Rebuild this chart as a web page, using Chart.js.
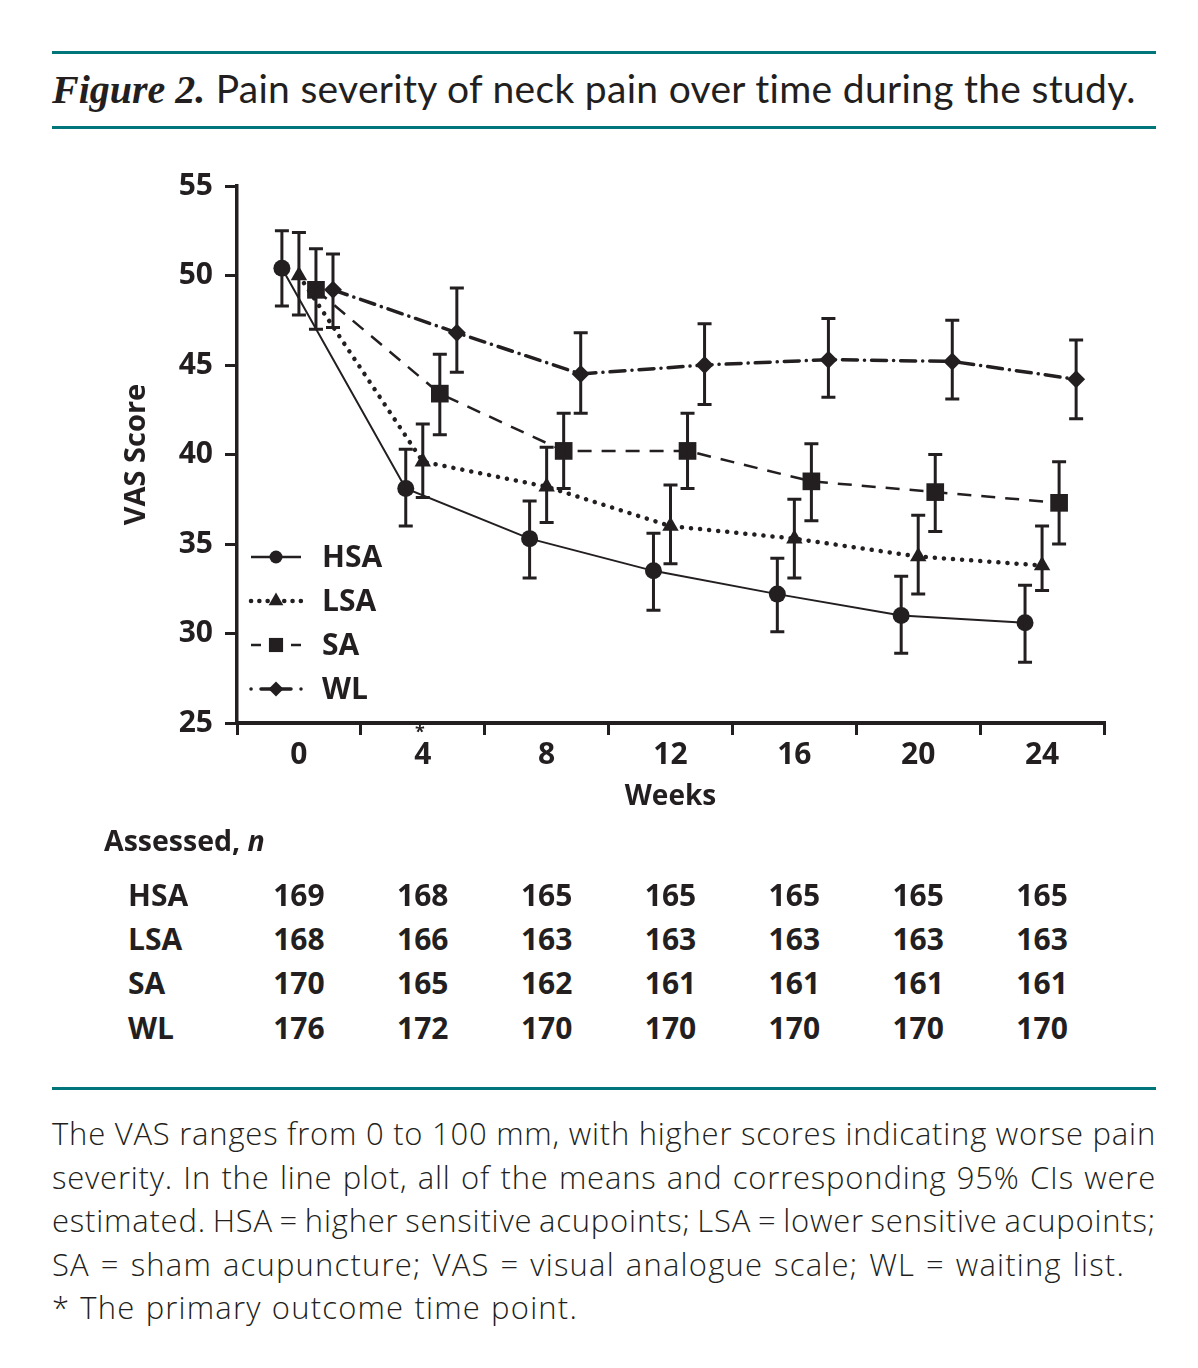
<!DOCTYPE html>
<html>
<head>
<meta charset="utf-8">
<script src="https://cdn.jsdelivr.net/npm/chart.js@4.4.1/dist/chart.umd.min.js"></script>
<style>
  html, body { margin: 0; padding: 0; background: #fff; }
  body { width: 1198px; height: 1368px; position: relative; overflow: hidden; color: #231f20; }
  .rule { position: absolute; left: 52px; width: 1104px; height: 3px; background: #00767a; }
  #title { position: absolute; left: 52px; top: 65px; font-family: "Lato", sans-serif; font-size: 39px; letter-spacing: 0.3px; white-space: nowrap; }
  #title b { font-family: "Liberation Serif", serif; font-style: italic; font-weight: bold; font-size: 40px; letter-spacing: 0; }
  #chartBox { position: absolute; left: 0; top: 150px; width: 1198px; height: 680px; }
  #assessed { position: absolute; left: 104px; top: 821px; font-family: "Open Sans", sans-serif; font-weight: 700; font-size: 28.5px; }
  .cell { position: absolute; font-family: "Open Sans", sans-serif; font-weight: 700; font-size: 30px; line-height: 40px; transform: translateX(-50%); }
  .rowlabel { position: absolute; left: 128px; font-family: "Open Sans", sans-serif; font-weight: 700; font-size: 30px; line-height: 40px; }
  #note { position: absolute; left: 52px; top: 1112px; width: 1104px; font-family: "Open Sans", sans-serif; font-weight: 300; font-size: 31px; letter-spacing: 0.8px; word-spacing: -3px; line-height: 43.5px; }
  #note div { text-align: justify; text-align-last: justify; white-space: nowrap; }
  #note div.loose { letter-spacing: 1.2px; word-spacing: 0; }
</style>
</head>
<body>
<div class="rule" style="top:51px"></div>
<div id="title"><b>Figure 2.</b> Pain severity of neck pain over time during the study.</div>
<div class="rule" style="top:126px"></div>
<div id="chartBox"><canvas id="chart"></canvas></div>
<div id="assessed">Assessed, <i>n</i></div>
<div id="table"></div>
<div class="rule" style="top:1087px"></div>
<div id="note">
  <div>The VAS ranges from 0 to 100 mm, with higher scores indicating worse pain</div>
  <div>severity. In the line plot, all of the means and corresponding 95% CIs were</div>
  <div>estimated. HSA = higher sensitive acupoints; LSA = lower sensitive acupoints;</div>
  <div class="loose" style="width:1073px">SA = sham acupuncture; VAS = visual analogue scale; WL = waiting list.</div>
  <div class="loose" style="width:526px">* The primary outcome time point.</div>
</div>
<script>
// weeks of assessment
const weeks = [0, 4, 8, 12, 16, 20, 24]

// VAS means and 95% CI bounds
const hsaMean = [50.4, 38.1, 35.3, 33.5, 32.2, 31.0, 30.6]
const hsaLower = [48.3, 36.0, 33.1, 31.3, 30.1, 28.9, 28.4]
const hsaUpper = [52.5, 40.3, 37.4, 35.6, 34.2, 33.2, 32.7]

const lsaMean = [50.0, 39.6, 38.2, 36.0, 35.3, 34.3, 33.8]
const lsaLower = [47.8, 37.6, 36.2, 33.9, 33.1, 32.2, 32.4]
const lsaUpper = [52.4, 41.7, 40.4, 38.3, 37.5, 36.6, 36.0]

const saMean = [49.2, 43.4, 40.2, 40.2, 38.5, 37.9, 37.3]
const saLower = [47.0, 41.1, 38.1, 38.1, 36.3, 35.7, 35.0]
const saUpper = [51.5, 45.6, 42.3, 42.3, 40.6, 40.0, 39.6]

const wlMean = [49.2, 46.8, 44.5, 45.0, 45.3, 45.2, 44.2]
const wlLower = [47.1, 44.6, 42.3, 42.8, 43.2, 43.1, 42.0]
const wlUpper = [51.2, 49.3, 46.8, 47.3, 47.6, 47.5, 46.4]

// number assessed at each visit
const groupNames = ["HSA", "LSA", "SA", "WL"]
const hsaN = [169, 168, 165, 165, 165, 165, 165]
const lsaN = [168, 166, 163, 163, 163, 163, 163]
const saN = [170, 165, 162, 161, 161, 161, 161]
const wlN = [176, 172, 170, 170, 170, 170, 170]

const yTicks = [25, 30, 35, 40, 45, 50, 55]
const ink = "#231f20"
const tickFont = { family: "'Open Sans'", size: 30, weight: "bold" }
const titleFont = { family: "'Open Sans'", size: 28, weight: "bold" }

// series styling (x offset keeps the four groups from overlapping)
const styles = {
  HSA: { shift: -0.55, dash: [], legendDash: [], width: 2, cap: "butt", point: "circle", radius: 8.5, legendRadius: 6.5 },
  LSA: { shift: 0, dash: [0.1, 9], legendDash: [0.1, 8.2], width: 4.5, cap: "round", point: "triangle", radius: 9.5, legendRadius: 8.5 },
  SA: { shift: 0.55, dash: [14, 10], legendDash: [10, 30], width: 2.5, cap: "butt", point: "rect", radius: 12.5, legendRadius: 10 },
  WL: { shift: 1.1, dash: [15, 7, 0.1, 7], legendDash: [0.1, 9.9, 30, 10], width: 3.5, cap: "round", point: "rectRot", radius: 9, legendRadius: 7.5 },
}

function makeSeries(name, mean, lower, upper) {
  const s = styles[name]
  return {
    label: name,
    data: weeks.map((w, i) => ({ x: w + s.shift, y: mean[i] })),
    lower: lower,
    upper: upper,
    borderColor: ink,
    backgroundColor: ink,
    borderWidth: s.width,
    borderDash: s.dash,
    borderCapStyle: s.cap,
    pointStyle: s.point,
    pointRadius: s.radius,
    pointBorderWidth: 0,
    pointBackgroundColor: ink,
    showLine: true,
    tension: 0,
  }
}

// error bars from each dataset's lower/upper arrays
const errorBars = {
  id: "errorBars",
  afterDatasetsDraw(chart) {
    const ctx = chart.ctx
    const y = chart.scales.y
    ctx.save()
    ctx.strokeStyle = ink
    ctx.lineWidth = 3
    ctx.setLineDash([])
    chart.data.datasets.forEach((ds, di) => {
      const meta = chart.getDatasetMeta(di)
      meta.data.forEach((pt, i) => {
        const top = y.getPixelForValue(ds.upper[i])
        const bot = y.getPixelForValue(ds.lower[i])
        ctx.beginPath()
        ctx.moveTo(pt.x, top); ctx.lineTo(pt.x, bot)
        ctx.moveTo(pt.x - 7, top); ctx.lineTo(pt.x + 7, top)
        ctx.moveTo(pt.x - 7, bot); ctx.lineTo(pt.x + 7, bot)
        ctx.stroke()
      })
    })
    ctx.restore()
  },
}

// legend with line sample + marker, and the asterisk under week 4
const sampleLegend = {
  id: "sampleLegend",
  afterDraw(chart) {
    const ctx = chart.ctx
    const area = chart.chartArea
    ctx.save()
    chart.data.datasets.forEach((ds, i) => {
      const s = styles[ds.label]
      const yy = area.top + 371 + i * 44
      const x0 = area.left + 14, x1 = area.left + 64
      ctx.strokeStyle = ink
      ctx.lineWidth = ds.label === "HSA" ? 2.5 : s.width
      ctx.lineCap = s.cap
      ctx.setLineDash(s.legendDash)
      ctx.beginPath()
      ctx.moveTo(x0, yy); ctx.lineTo(x1, yy)
      ctx.stroke()
      ctx.setLineDash([])
      ctx.fillStyle = ink
      Chart.helpers.drawPoint(ctx, { pointStyle: s.point, radius: s.legendRadius, borderWidth: 0 }, (x0 + x1) / 2, yy)
      ctx.font = "bold 30px 'Open Sans'"
      ctx.textBaseline = "middle"
      ctx.textAlign = "left"
      ctx.fillText(ds.label, area.left + 85, yy + 1)
    })
    const xs = chart.scales.x
    ctx.font = "bold 18px 'Open Sans'"
    ctx.textAlign = "center"
    ctx.textBaseline = "middle"
    ctx.fillText("*", xs.getPixelForValue(4) - 3, area.bottom + 10)
    ctx.restore()
  },
}

const chart = new Chart(document.getElementById("chart"), {
  type: "scatter",
  data: {
    datasets: [
      makeSeries("HSA", hsaMean, hsaLower, hsaUpper),
      makeSeries("LSA", lsaMean, lsaLower, lsaUpper),
      makeSeries("SA", saMean, saLower, saUpper),
      makeSeries("WL", wlMean, wlLower, wlUpper),
    ],
  },
  options: {
    responsive: true,
    maintainAspectRatio: false,
    animation: false,
    layout: { padding: { left: 118, right: 94, top: 36, bottom: 0 } },
    plugins: { legend: { display: false }, tooltip: { enabled: false } },
    scales: {
      x: {
        type: "linear",
        min: -2,
        max: 26,
        afterFit: (scale) => { scale.height = 107 },
        afterBuildTicks: (scale) => {
          const t = []
          for (let v = -2; v <= 26; v += 2) t.push({ value: v })
          scale.ticks = t
        },
        border: { display: true, color: ink, width: 4 },
        grid: {
          drawOnChartArea: false,
          drawTicks: true,
          tickLength: 12,
          lineWidth: 3,
          tickColor: (c) => ((c.tick && (c.tick.value + 2) % 4 === 0) ? ink : "rgba(0,0,0,0)"),
        },
        ticks: {
          color: ink,
          padding: 2,
          autoSkip: false,
          maxRotation: 0,
          font: tickFont,
          callback: (v) => (weeks.includes(v) ? String(v) : ""),
        },
        title: {
          display: true,
          text: "Weeks",
          color: ink,
          font: titleFont,
          padding: { top: 0, bottom: 16 },
        },
      },
      y: {
        min: 25,
        max: 55,
        afterFit: (scale) => { scale.width = 119 },
        afterBuildTicks: (scale) => { scale.ticks = yTicks.map((v) => ({ value: v })) },
        border: { display: true, color: ink, width: 3.5 },
        grid: { drawOnChartArea: false, drawTicks: true, tickLength: 12, lineWidth: 3, tickColor: ink },
        ticks: {
          color: ink,
          padding: 12,
          font: tickFont,
        },
        title: {
          display: true,
          text: "VAS Score",
          color: ink,
          font: { family: "'Open Sans'", size: 29, weight: "bold" },
          padding: { top: 1, bottom: 0 },
        },
      },
    },
  },
  plugins: [errorBars, sampleLegend],
})

// table of numbers assessed, columns aligned with the week ticks
const table = document.getElementById("table")
const rows = [hsaN, lsaN, saN, wlN]
const rowTops = [875, 919, 963, 1008]
rows.forEach((vals, r) => {
  const lab = document.createElement("div")
  lab.className = "rowlabel"
  lab.style.top = rowTops[r] + "px"
  lab.textContent = groupNames[r]
  table.appendChild(lab)
  vals.forEach((v, i) => {
    const c = document.createElement("div")
    c.className = "cell"
    c.style.top = rowTops[r] + "px"
    c.style.left = chart.scales.x.getPixelForValue(weeks[i]) + "px"
    c.textContent = v
    table.appendChild(c)
  })
})
</script>
</body>
</html>
